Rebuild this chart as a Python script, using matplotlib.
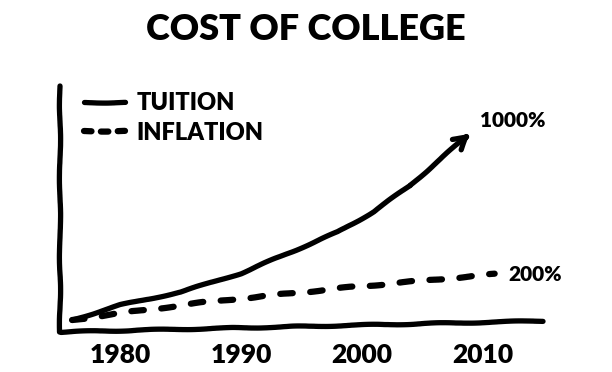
import matplotlib
matplotlib.use("Agg")
import matplotlib.pyplot as plt
from matplotlib import font_manager

# ---- data ----
tuition_years = [1976, 1980, 1985, 1990, 1994, 1998, 2001, 2004, 2009]
tuition_vals = [0, 80, 150, 250, 360, 470, 580, 720, 1000]
inflation_years = [1976, 1981, 1987, 1993, 1999, 2005, 2011]
inflation_vals = [0, 45, 95, 135, 175, 210, 245]
tick_years = [1980, 1990, 2000, 2010]
tick_labels = ["1980", "1990", "2000", "2010"]
series_names = ["TUITION", "INFLATION"]
end_labels = ["1000%", "200%"]
title = "COST OF COLLEGE"

avail = {f.name for f in font_manager.fontManager.ttflist}
fam = "Lato" if "Lato" in avail else "DejaVu Sans"
plt.rcParams["font.family"] = [fam, "DejaVu Sans"]
plt.rcParams["path.sketch"] = (0.6, 80, 2)

fig = plt.figure(figsize=(6.12, 3.72), dpi=100)
ax = fig.add_axes([60 / 612, 1 - 332 / 372, 483 / 612, 246 / 372])
ax.set_xlim(1975, 2015)
ax.set_ylim(-64, 1251)

lw = 3.8
# hand-drawn axes
ax.plot([0, 0, 1], [1, 0, 0.045], transform=ax.transAxes, color="black",
        lw=lw, solid_capstyle="round", solid_joinstyle="round", clip_on=False)
for s in ax.spines.values():
    s.set_visible(False)

ax.plot(tuition_years[:-1], tuition_vals[:-1], color="black", lw=lw,
        solid_capstyle="round", solid_joinstyle="round", label=series_names[0])
ax.annotate("", xy=(tuition_years[-1], tuition_vals[-1]),
            xytext=(tuition_years[-2], tuition_vals[-2]),
            arrowprops=dict(arrowstyle="->,head_length=0.9,head_width=0.5",
                            color="black", lw=lw, shrinkA=0, shrinkB=0,
                            capstyle="round", joinstyle="round"))
ax.plot(inflation_years, inflation_vals, color="black", lw=4.5,
        linestyle=(0, (2.0, 2.8)), dash_capstyle="round", label=series_names[1])

ax.annotate(end_labels[0], xy=(tuition_years[-1], tuition_vals[-1]),
            xytext=(7, 2), textcoords="offset points", fontsize=15,
            fontweight="heavy", ha="left", va="bottom")
ax.annotate(end_labels[1], xy=(inflation_years[-1], inflation_vals[-1]),
            xytext=(10, 0), textcoords="offset points", fontsize=15,
            fontweight="heavy", ha="left", va="center")

ax.set_xticks(tick_years)
ax.set_xticklabels(tick_labels, fontsize=19, fontweight="heavy")
ax.tick_params(axis="x", length=0, pad=8)
ax.set_yticks([])

leg = ax.legend(loc="upper left", bbox_to_anchor=(0.005, 1.06), frameon=False,
                handlelength=1.75, handletextpad=0.5, labelspacing=0.3,
                prop=dict(family=[fam, "DejaVu Sans"], weight="heavy", size=17))
leg_lines = leg.get_lines()
leg_lines[1].set_linestyle((0, (1.2, 1.5)))
leg_lines[1].set_dash_capstyle("round")

fig.text(0.5, 1 - 30 / 372, title, ha="center", va="center", fontsize=26,
         fontweight="heavy")

fig.savefig("out.png", dpi=100, facecolor="white")
